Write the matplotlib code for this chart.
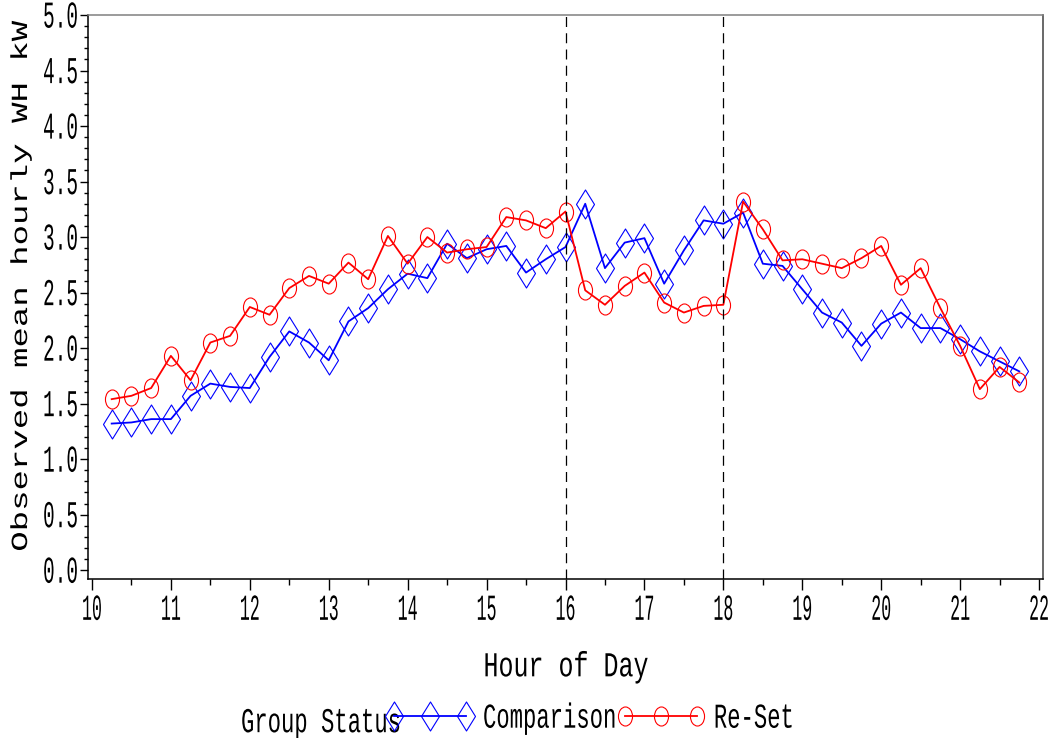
import matplotlib
matplotlib.use("Agg")
import matplotlib.pyplot as plt
from matplotlib.path import Path
from matplotlib.patheffects import AbstractPathEffect
from matplotlib.transforms import Affine2D
from matplotlib.ticker import MultipleLocator

# quarter-hour slots
hours = [10.25, 10.5, 10.75, 11.0, 11.25, 11.5, 11.75, 12.0, 12.25, 12.5, 12.75, 13.0,
         13.25, 13.5, 13.75, 14.0, 14.25, 14.5, 14.75, 15.0, 15.25, 15.5, 15.75, 16.0,
         16.25, 16.5, 16.75, 17.0, 17.25, 17.5, 17.75, 18.0, 18.25, 18.5, 18.75, 19.0,
         19.25, 19.5, 19.75, 20.0, 20.25, 20.5, 20.75, 21.0, 21.25, 21.5, 21.75]

comparison = [1.32, 1.33, 1.36, 1.36, 1.57, 1.68, 1.65, 1.64, 1.92, 2.15, 2.05, 1.89,
              2.24, 2.36, 2.53, 2.67, 2.63, 2.94, 2.81, 2.89, 2.92, 2.68, 2.80, 2.91,
              3.30, 2.72, 2.95, 2.99, 2.58, 2.88, 3.15, 3.12, 3.22, 2.76, 2.74, 2.53,
              2.32, 2.23, 2.02, 2.22, 2.32, 2.18, 2.18, 2.08, 1.97, 1.88, 1.79]

reset = [1.54, 1.57, 1.64, 1.93, 1.71, 2.05, 2.11, 2.37, 2.30, 2.54, 2.65, 2.58,
         2.77, 2.62, 3.01, 2.76, 3.00, 2.86, 2.89, 2.91, 3.18, 3.15, 3.08, 3.23,
         2.52, 2.39, 2.56, 2.68, 2.41, 2.32, 2.38, 2.39, 3.32, 3.07, 2.79, 2.80,
         2.76, 2.72, 2.81, 2.92, 2.57, 2.72, 2.36, 2.02, 1.63, 1.83, 1.69]

event_hours = [16, 18]
x_ticks = [10, 11, 12, 13, 14, 15, 16, 17, 18, 19, 20, 21, 22]
y_ticks = [0.0, 0.5, 1.0, 1.5, 2.0, 2.5, 3.0, 3.5, 4.0, 4.5, 5.0]


class Tall(AbstractPathEffect):
    """Stretch glyphs across the baseline so text looks like the SAS simplex font."""

    def __init__(self, sy, mid=33):
        super().__init__()
        self.sy = sy
        self.mid = mid

    def draw_path(self, renderer, gc, tpath, affine, rgbFace=None):
        t = Affine2D().translate(0, -self.mid).scale(1, self.sy).translate(0, self.mid) + affine
        renderer.draw_path(gc, tpath, t, rgbFace)


plt.rcParams["font.family"] = ["Liberation Mono", "DejaVu Sans Mono"]

diamond = Path([(0, 1), (0.62, 0), (0, -1), (-0.62, 0), (0, 1)],
               [Path.MOVETO, Path.LINETO, Path.LINETO, Path.LINETO, Path.CLOSEPOLY])
circ = Path.unit_circle()
ellipse = Path(circ.vertices * [0.74, 1.0], circ.codes)

fig = plt.figure(figsize=(10.56, 7.38), dpi=100)
ax = fig.add_axes([88 / 1056, 1 - 579 / 738, 955 / 1056, 564 / 738])

ax.plot(hours, comparison, color="blue", lw=1.3, marker=diamond, ms=20.9,
        mfc="none", mec="blue", mew=0.8, label="Comparison")
ax.plot(hours, reset, color="red", lw=1.3, marker=ellipse, ms=13.7,
        mfc="none", mec="red", mew=0.8, label="Re-Set")
for h in event_hours:
    ax.axvline(h, color="black", lw=0.9, dashes=(8, 5))

ax.set_xlim(9.95, 22.05)
ax.set_ylim(-0.08, 5.0)
ax.set_xticks(x_ticks)
ax.set_xticklabels([str(t) for t in x_ticks])
ax.set_yticks(y_ticks)
ax.set_yticklabels([f"{t:.1f}" for t in y_ticks])
ax.xaxis.set_minor_locator(MultipleLocator(0.5))
ax.yaxis.set_minor_locator(MultipleLocator(0.1))
ax.tick_params(axis="x", which="major", length=8, width=1, pad=8, labelsize=12)
ax.tick_params(axis="x", which="minor", length=4.5, width=1)
ax.tick_params(axis="y", which="major", length=6, width=1, pad=1, labelsize=14)
ax.tick_params(axis="y", which="minor", length=3, width=1)

ax.spines["top"].set_color("0.5")
ax.spines["right"].set_color("0.25")
for s in ax.spines.values():
    s.set_linewidth(1.1)

ax.set_xlabel("Hour of Day", fontsize=18)
ax.xaxis.set_label_coords(0.5005, -0.1667)
ax.xaxis.label.set_va("baseline")
ax.xaxis.label.set_path_effects([Tall(1.4)])

ax.set_ylabel("Observed mean hourly WH kW", fontsize=24.5)
ax.yaxis.set_label_coords(-0.069, 0.518)
ax.yaxis.label.set_va("center")
ax.yaxis.label.set_path_effects([Tall(0.68)])

for lbl in ax.get_xticklabels():
    lbl.set_path_effects([Tall(2.2)])
for lbl in ax.get_yticklabels():
    lbl.set_path_effects([Tall(1.95)])

fig.text(241 / 1056, 1 - 728 / 738, "Group Status", fontsize=16, ha="left",
         va="baseline", path_effects=[Tall(1.57)])
leg = fig.legend(loc="center left", bbox_to_anchor=(387 / 1056, 1 - 718 / 738),
                 ncol=2, frameon=False, numpoints=3, fontsize=16, borderpad=0,
                 borderaxespad=0, handlelength=3.87, handletextpad=0.45,
                 columnspacing=0.05)
for t in leg.get_texts():
    t.set_path_effects([Tall(1.57)])

fig.savefig("out.png", dpi=100)
